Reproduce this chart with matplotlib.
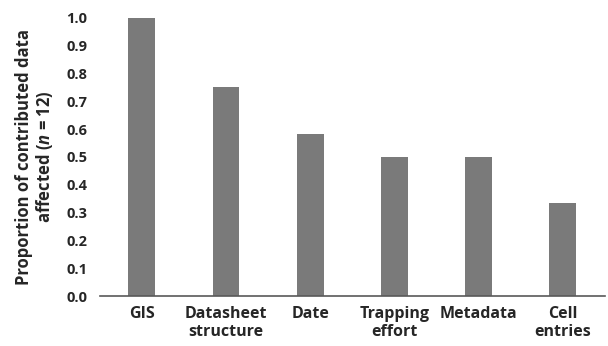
import matplotlib
matplotlib.use("Agg")
import matplotlib.pyplot as plt

categories = ["GIS", "Datasheet\nstructure", "Date", "Trapping\neffort", "Metadata", "Cell\nentries"]
values = [1.0, 0.75, 0.583, 0.5, 0.5, 0.333]
yticks = [0.0, 0.1, 0.2, 0.3, 0.4, 0.5, 0.6, 0.7, 0.8, 0.9, 1.0]

plt.rcParams['font.family'] = ['Open Sans', 'DejaVu Sans']
plt.rcParams['mathtext.fontset'] = 'custom'
plt.rcParams['mathtext.it'] = 'Open Sans:italic:bold'
plt.rcParams['mathtext.rm'] = 'Open Sans:bold'

fig = plt.figure(figsize=(6.08, 3.46), dpi=100)
ax = fig.add_axes([0.164, 0.1445, 0.831, 0.8035])
x = range(len(categories))
ax.bar(x, values, width=0.32, color="#7a7a7a")
ax.set_xlim(-0.5, len(categories) - 0.5)
ax.set_ylim(0, 1.0)
ax.set_yticks(yticks)
ax.set_yticklabels([f"{t:.1f}" for t in yticks], fontsize=10.5, fontweight='bold', color="#262626")
ax.set_xticks(list(x))
ax.set_xticklabels(categories, fontsize=11.5, fontweight='bold', color="#262626", linespacing=1.2)
for s in ["top", "right", "left"]:
    ax.spines[s].set_visible(False)
ax.spines["bottom"].set_color("#595959")
ax.spines["bottom"].set_linewidth(1.2)
ax.tick_params(axis='y', length=0, pad=9)
ax.tick_params(axis='x', length=0, pad=7)
ax.set_ylabel("Proportion of contributed data\naffected ($n$ = 12)", fontsize=12, fontweight='bold',
              color="#262626", labelpad=8, linespacing=1.1)
fig.savefig("out.png", dpi=100)
